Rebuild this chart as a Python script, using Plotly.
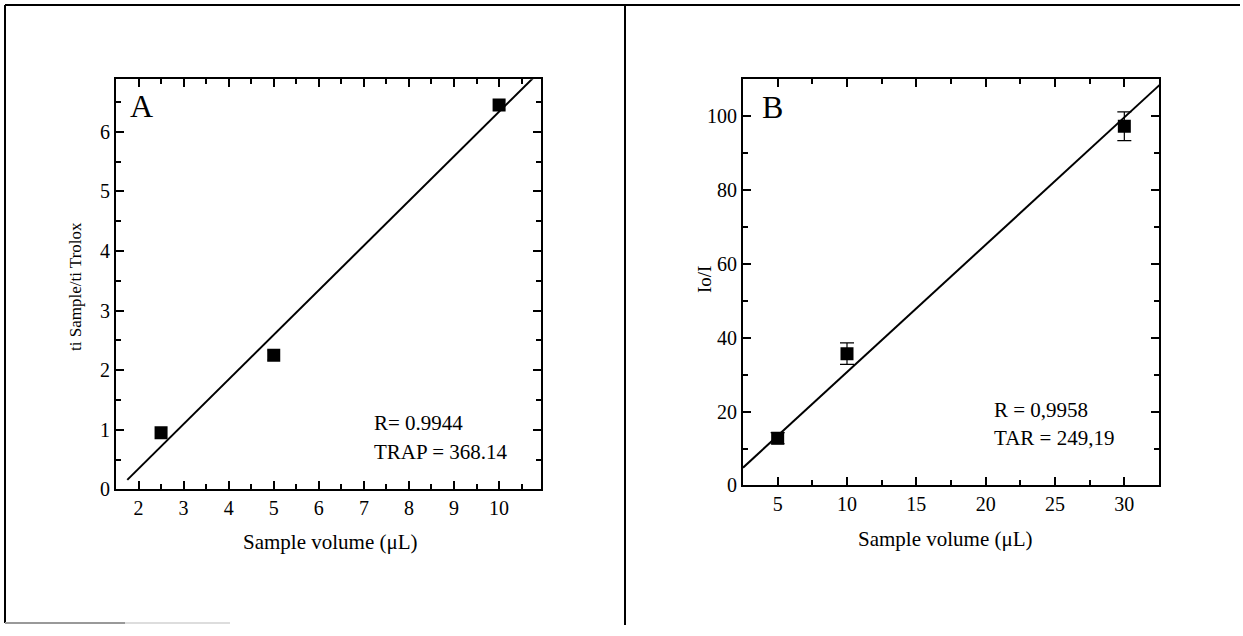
import plotly.graph_objects as go
import numpy as np

# ---- Data ----
volA = [2.5, 5, 10]
ratioA = [0.95, 2.25, 6.45]
errA = [0.08, 0.08, 0.08]
fitA_slope = 0.7486
fitA_intercept = -1.15
fitA_xrange = [1.75, 11.0]

volB = [5, 10, 30]
ioB = [12.8, 35.7, 97.3]
errB = [1.5, 2.9, 3.9]
fitB_slope = 3.45
fitB_intercept = -3.8
fitB_xrange = [2.5, 33.0]

ticksA_x = [2, 3, 4, 5, 6, 7, 8, 9, 10]
ticksA_y = [0, 1, 2, 3, 4, 5, 6]
ticksB_x = [5, 10, 15, 20, 25, 30]
ticksB_y = [0, 20, 40, 60, 80, 100]

W, H = 1243, 636
FONT = "Liberation Serif"

def px(x):
    return x / W

def py(y):
    return 1 - y / H

fig = go.Figure()

# Panel A
fxA = np.array(fitA_xrange)
fig.add_trace(go.Scatter(x=fxA, y=fitA_slope * fxA + fitA_intercept, mode="lines",
                         line=dict(color="black", width=2), xaxis="x", yaxis="y",
                         showlegend=False, hoverinfo="skip"))
fig.add_trace(go.Scatter(x=volA, y=ratioA, mode="markers",
                         marker=dict(symbol="square", size=13, color="black"),
                         error_y=dict(type="data", array=errA, color="black", thickness=1.5, width=6),
                         xaxis="x", yaxis="y", showlegend=False))

# Panel B
fxB = np.array(fitB_xrange)
fig.add_trace(go.Scatter(x=fxB, y=fitB_slope * fxB + fitB_intercept, mode="lines",
                         line=dict(color="black", width=2), xaxis="x2", yaxis="y2",
                         showlegend=False, hoverinfo="skip"))
fig.add_trace(go.Scatter(x=volB, y=ioB, mode="markers",
                         marker=dict(symbol="square", size=13, color="black"),
                         error_y=dict(type="data", array=errB, color="black", thickness=1.2, width=7),
                         xaxis="x2", yaxis="y2", showlegend=False))

axis_common = dict(showline=True, linecolor="black", linewidth=2, mirror="ticks",
                   ticks="inside", ticklen=8, tickwidth=2, tickcolor="black",
                   showgrid=False, zeroline=False,
                   tickfont=dict(family=FONT, size=20, color="black"))

fig.update_layout(
    width=W, height=H, autosize=False,
    margin=dict(l=0, r=0, t=0, b=0),
    paper_bgcolor="white", plot_bgcolor="white",
    xaxis=dict(domain=[px(116), px(541)], range=[1.5, 10.93], anchor="y",
               tickvals=ticksA_x,
               minor=dict(ticks="inside", ticklen=5, tickwidth=2, tickcolor="black", dtick=0.5, tick0=0),
               **axis_common),
    yaxis=dict(domain=[py(498), py(80.7)], range=[0, 6.88], anchor="x",
               tickvals=ticksA_y,
               minor=dict(ticks="inside", ticklen=5, tickwidth=2, tickcolor="black", dtick=0.5, tick0=0),
               **axis_common),
    xaxis2=dict(domain=[px(743), px(1159)], range=[2.5, 32.5], anchor="y2",
                tickvals=ticksB_x,
                minor=dict(ticks="inside", ticklen=5, tickwidth=2, tickcolor="black", dtick=2.5, tick0=0),
                **axis_common),
    yaxis2=dict(domain=[py(494), py(80.7)], range=[0, 110], anchor="x2",
                tickvals=ticksB_y,
                minor=dict(ticks="inside", ticklen=5, tickwidth=2, tickcolor="black", dtick=10, tick0=0),
                **axis_common),
)

ann = []
def text(x, y, s, size=21, xanchor="center", angle=0):
    ann.append(dict(x=px(x), y=py(y), xref="paper", yref="paper", text=s, showarrow=False,
                    xanchor=xanchor, yanchor="middle", textangle=angle,
                    font=dict(family=FONT, size=size, color="black")))

text(330, 552, "Sample volume (μL)")
text(76, 292, "ti Sample/ti Trolox", size=17, angle=-90)
text(141, 108, "A", size=32)
text(372, 430, "R= 0.9944", xanchor="left")
text(372, 460, "TRAP = 368.14", xanchor="left")

text(945, 548, "Sample volume (μL)")
text(704, 285, "Io/I", size=19, angle=-90)
text(772, 109, "B", size=32)
text(992, 417, "R = 0,9958", xanchor="left")
text(992, 446, "TAR = 249,19", xanchor="left")
fig.update_layout(annotations=ann)

# Page frame lines
shapes = []
def seg(x0, y0, x1, y1, color="black", width=2):
    shapes.append(dict(type="line", xref="paper", yref="paper",
                       x0=px(x0), y0=py(y0), x1=px(x1), y1=py(y1),
                       line=dict(color=color, width=width)))
seg(5, 5, 1240, 5, width=2)
seg(5, 5, 5, 634, width=2)
seg(625, 5, 625, 636, width=2)
seg(5, 634, 125, 634, color="#999999", width=2)
seg(125, 634, 230, 634, color="#dddddd", width=2)
fig.update_layout(shapes=shapes)

post = ("document.documentElement.style.margin='0';"
        "document.documentElement.style.padding='0';"
        "document.documentElement.style.overflow='hidden';"
        "document.body.style.margin='0';"
        "document.body.style.padding='0';"
        "document.body.style.overflow='hidden';")
fig.write_html("out.html", post_script=post, config={"displayModeBar": False})
